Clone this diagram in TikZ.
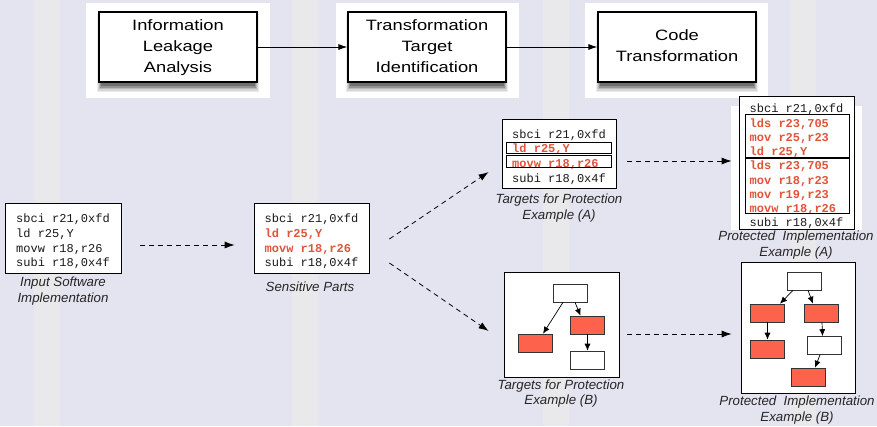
\documentclass[tikz,border=0pt]{standalone}
\usepackage{fontspec}
\usepackage{graphicx}
\setmainfont{Liberation Sans}
\newfontfamily\codefont{Liberation Mono}
\usetikzlibrary{arrows.meta,calc}
\definecolor{bg}{RGB}{228,228,240}
\definecolor{stripe}{RGB}{233,233,235}
\definecolor{hl}{RGB}{224,84,58}
\definecolor{redfill}{RGB}{252,98,76}
\newcommand{\hlt}[1]{\textcolor{hl}{\bfseries #1}}
\newcommand{\toptext}[1]{\scalebox{1.22}[1]{\begin{tabular}{@{}c@{}}#1\end{tabular}}}
\pgfdeclarelayer{back}
\pgfsetlayers{back,main}
\begin{document}
\begin{tikzpicture}[x=1pt,y=-1pt,
  topbox/.style={draw=black, line width=1.2pt, fill=white, minimum width=158pt, minimum height=70pt, align=center, inner sep=0pt, font=\fontsize{15}{21}\selectfont},
  codeframe/.style={draw=black, line width=0.8pt, fill=white, inner sep=0pt},
  codetext/.style={align=left, inner sep=0pt, text=black!90, font=\codefont\fontsize{12}{14.7}\selectfont},
  captxt/.style={align=center, font=\itshape\fontsize{13.3}{15.5}\selectfont, text=black!85, inner sep=0pt},
  frame/.style={draw=black, line width=0.8pt, fill=white, inner sep=0pt},
  wbox/.style={draw=black!80, line width=0.6pt, fill=white, minimum width=34pt, minimum height=18pt, inner sep=0pt},
  rbox/.style={wbox, fill=redfill},
  solidarr/.style={-{Latex[length=9pt,width=6pt]}, line width=0.8pt},
  dasharr/.style={-{Latex[length=10pt,width=7pt]}, line width=0.8pt, dash pattern=on 5pt off 4pt},
  smallarr/.style={-{Latex[length=7pt,width=6pt]}, line width=0.7pt},
]
\useasboundingbox (0,0) rectangle (877,426);
\begin{pgfonlayer}{back}
\fill[bg] (0,0) rectangle (877,426);
\foreach \sx in {34,292,543,790} { \fill[stripe] (\sx,0) rectangle ++(26,426); }
\fill[white] (86,3) rectangle (270,98);
\fill[white] (336,3) rectangle (519,98);
\fill[white] (585,3) rectangle (768,98);
\fill[white] (731,106) rectangle (862,230);
\end{pgfonlayer}
% top boxes
\node[topbox] (t1) at (178,47) {\toptext{Information\\Leakage\\Analysis}};
\node[topbox] (t2) at (427,47) {\toptext{Transformation\\Target\\Identification}};
\node[topbox] (t3) at (677,47) {\toptext{Code\\Transformation}};
\begin{pgfonlayer}{back}
\foreach \n in {t1,t2,t3} {
  \foreach \k/\c in {0/8,1/16,2/28,3/42,4/56} {
    \fill[black!\c] ([shift={(\k*0.8-1,3)}]\n.north west) rectangle ([shift={(-\k*0.8+1,9.5-\k*1.5)}]\n.south east);
  }
}
\end{pgfonlayer}
\draw[solidarr] (t1.east) -- (t2.west);
\draw[solidarr] (t2.east) -- (t3.west);
% input
\node[codeframe, minimum width=116pt, minimum height=70pt] (in) at (63,238) {};
\node[codetext] (intext) at (63,241.5) {sbci r21,0xfd\\ld r25,Y\\movw r18,r26\\subi r18,0x4f};
\node[captxt] (incap) at (63,291) {Input Software\\Implementation};
% sensitive
\node[codeframe, minimum width=115pt, minimum height=70pt] (sens) at (311.5,238) {};
\node[codetext] (senstext) at (311.5,241.5) {sbci r21,0xfd\\\hlt{ld r25,Y}\\\hlt{movw r18,r26}\\subi r18,0x4f};
\node[captxt] (senscap) at (310,287) {Sensitive Parts};
% targets A
\node[codeframe, minimum width=114pt, minimum height=69pt] (ta) at (559,153.5) {};
\node[codetext] (tatext) at (559,157) {sbci r21,0xfd\\\hlt{ld r25,Y}\\\hlt{movw r18,r26}\\subi r18,0x4f};
\draw[line width=0.8pt] (506,142) rectangle (611,153);
\draw[line width=0.8pt] (506,155) rectangle (611,167);
\node[captxt] (tacap) at (559,208) {Targets for Protection\\Example (A)};
% protected A
\node[codeframe, minimum width=115pt, minimum height=133pt] (pa) at (796.5,162.5) {};
\node[codetext, font=\codefont\fontsize{12}{14.25}\selectfont] (patext) at (796.5,166.5) {sbci r21,0xfd\\\hlt{lds r23,705}\\\hlt{mov r25,r23}\\\hlt{ld r25,Y}\\\hlt{lds r23,705}\\\hlt{mov r18,r23}\\\hlt{mov r19,r23}\\\hlt{movw r18,r26}\\subi r18,0x4f};
\draw[line width=0.8pt] (745,114) rectangle (849,157);
\draw[line width=0.8pt] (745,158) rectangle (849,213);
\node[captxt] (pacap) at (796,245) {Protected\ \ Implementation\\Example (A)};
% targets B
\node[frame, minimum width=115pt, minimum height=105pt] (tb) at (561.5,324.5) {};
\node[wbox] (b1) at (570,293) {};
\node[rbox] (b2) at (587.5,325) {};
\node[rbox] (b3) at (535,343) {};
\node[wbox] (b4) at (587.5,360) {};
\draw[smallarr] ([xshift=-7pt]b1.south) -- ([xshift=8pt]b3.north);
\draw[smallarr] ([xshift=5pt]b1.south) -- ([xshift=-7pt]b2.north);
\draw[smallarr] (b2.south) -- (b4.north);
\node[captxt] (tbcap) at (561,393.5) {Targets for Protection\\Example (B)};
% protected B
\node[frame, minimum width=114pt, minimum height=131pt] (pb) at (798,327.5) {};
\node[wbox] (p1) at (804,281) {};
\node[rbox] (p2) at (767.5,313) {};
\node[rbox] (p3) at (821.5,313) {};
\node[rbox] (p4) at (767.5,349) {};
\node[wbox] (p5) at (824,345.5) {};
\node[rbox] (p6) at (808.5,377) {};
\draw[smallarr] ([xshift=-11pt]p1.south) -- ([xshift=12.5pt]p2.north);
\draw[smallarr] ([xshift=4pt]p1.south) -- ([xshift=-8.5pt]p3.north);
\draw[smallarr] (p2.south) -- (p4.north);
\draw[smallarr] ([xshift=0.5pt]p3.south) -- ([xshift=-1.5pt]p5.north);
\draw[smallarr] ([xshift=-4pt]p5.south) -- ([xshift=6.5pt]p6.north);
\node[captxt] (pbcap) at (797,410) {Protected\ \ Implementation\\Example (B)};
% dashed flow
\draw[dasharr] ([shift={(19,7)}]in.east) -- ([shift={(-19,7)}]sens.west);
\draw[dasharr] ([shift={(20,1)}]sens.east) -- ([shift={(-13,18.5)}]ta.west);
\draw[dasharr] ([shift={(20,25)}]sens.east) -- ([shift={(-15,6.5)}]tb.west);
\draw[dasharr] ([shift={(11,7.5)}]ta.east) -- ([shift={(-7,-1.5)}]pa.west);
\draw[dasharr] ([shift={(8,9.5)}]tb.east) -- ([shift={(-9,6.5)}]pb.west);
\end{tikzpicture}
\end{document}
